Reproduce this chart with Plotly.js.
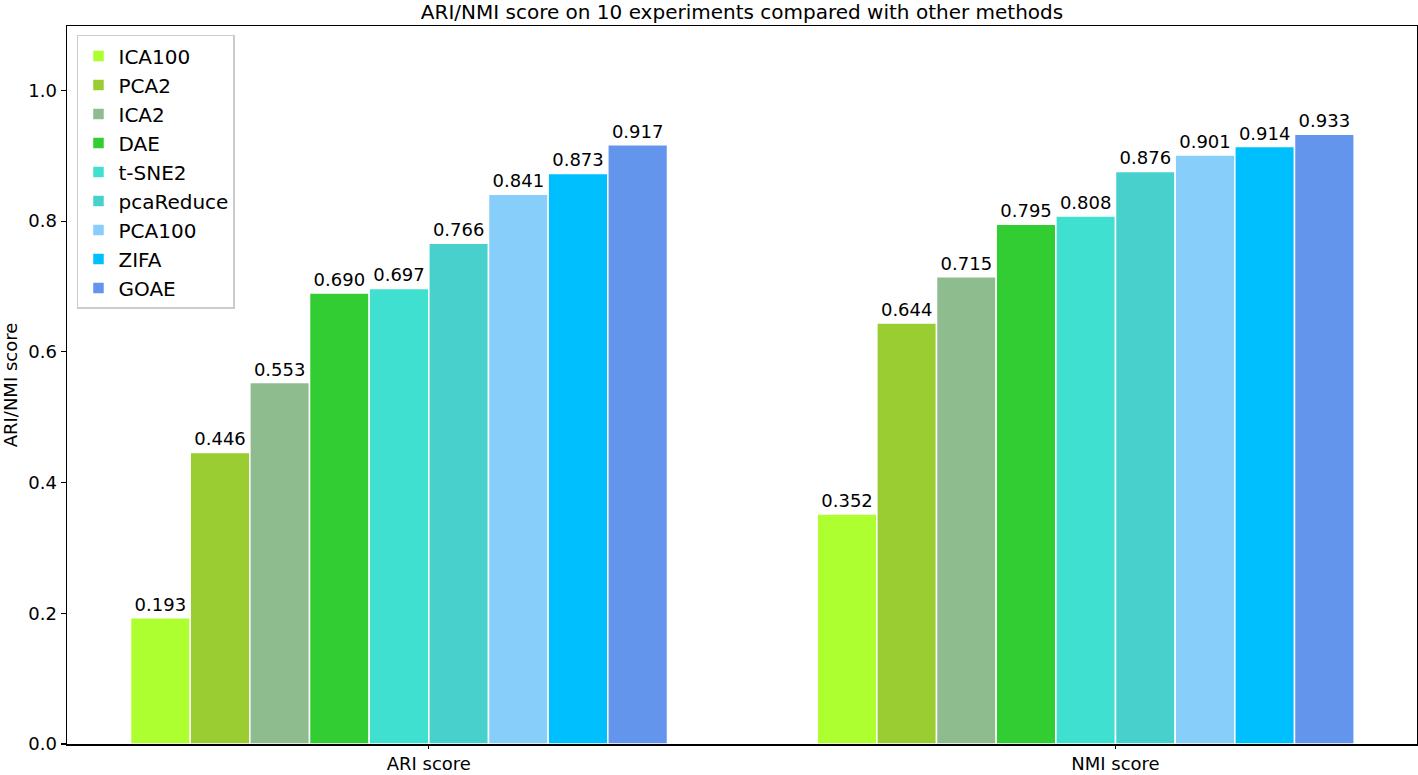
<!DOCTYPE html>
<html>
<head>
<meta charset="utf-8">
<script src="https://cdn.plot.ly/plotly-3.0.1.min.js"></script>
<style>html,body{margin:0;padding:0;background:#fff;}#chart{width:1418px;height:775px;}</style>
</head>
<body>
<div id="chart"></div>
<script>
const groups = ["ARI score", "NMI score"];
const methods = ["ICA100", "PCA2", "ICA2", "DAE", "t-SNE2", "pcaReduce", "PCA100", "ZIFA", "GOAE"];
const colors = ["#ADFF2F", "#9ACD32", "#8FBC8F", "#32CD32", "#40E0D0", "#48D1CC", "#87CEFA", "#00BFFF", "#6495ED"];
const ariScores = [0.193, 0.446, 0.553, 0.690, 0.697, 0.766, 0.841, 0.873, 0.917];
const nmiScores = [0.352, 0.644, 0.715, 0.795, 0.808, 0.876, 0.901, 0.914, 0.933];
const yTicks = [0.0, 0.2, 0.4, 0.6, 0.8, 1.0];

const groupX = [0, 1];
const bargap = 0.218;
const barW = (1 - bargap) / methods.length;
const FONT = "DejaVu Sans, sans-serif";

const traces = methods.map((m, i) => {
  const vals = [ariScores[i], nmiScores[i]];
  return {
    type: "bar",
    name: m,
    x: groupX,
    y: vals,
    text: vals.map(v => v.toFixed(3)),
    textposition: "outside",
    constraintext: "none",
    cliponaxis: false,
    textfont: {family: FONT, size: 18, color: "#000"},
    marker: {color: colors[i], line: {color: "#ffffff", width: 1.5}},
    hoverinfo: "name+y"
  };
});

const layout = {
  width: 1418, height: 775,
  margin: {l: 67, r: 1, t: 26, b: 31, pad: 0},
  paper_bgcolor: "#fff", plot_bgcolor: "#fff",
  font: {family: FONT, size: 18, color: "#000"},
  barmode: "group",
  bargap: bargap,
  bargroupgap: 0,
  title: {
    text: "ARI/NMI score on 10 experiments compared with other methods",
    font: {family: FONT, size: 20, color: "#000"},
    x: 0.5, xref: "paper", xanchor: "center",
    y: 1 - 12/775, yref: "container", yanchor: "middle"
  },
  xaxis: {
    range: [-0.4835, 1.4825],
    tickvals: groupX.map(g => g + barW / 2),
    ticktext: groups,
    ticks: "outside", ticklen: 3, tickwidth: 1.2, tickcolor: "#000",
    showline: true, linecolor: "#000", linewidth: 1.5, mirror: true,
    showgrid: false, zeroline: false,
    tickfont: {family: FONT, size: 18, color: "#000"}
  },
  yaxis: {
    range: [0, 1.0985],
    tickvals: yTicks,
    ticktext: yTicks.map(v => v.toFixed(1)),
    ticks: "outside", ticklen: 5, tickwidth: 1.2, tickcolor: "#000",
    showline: true, linecolor: "#000", linewidth: 1.5, mirror: true,
    showgrid: false, zeroline: false,
    tickfont: {family: FONT, size: 18, color: "#000"},
    title: {text: "ARI/NMI score", font: {family: FONT, size: 18, color: "#000"}, standoff: 10}
  },
  legend: {
    x: 0.0074, y: 0.9875, xanchor: "left", yanchor: "top",
    bgcolor: "rgba(255,255,255,0.9)", bordercolor: "#cccccc", borderwidth: 1.5,
    font: {family: FONT, size: 20, color: "#000"},
    traceorder: "normal"
  },
  showlegend: true
};

Plotly.newPlot("chart", traces, layout, {displayModeBar: false, staticPlot: true});
</script>
</body>
</html>
